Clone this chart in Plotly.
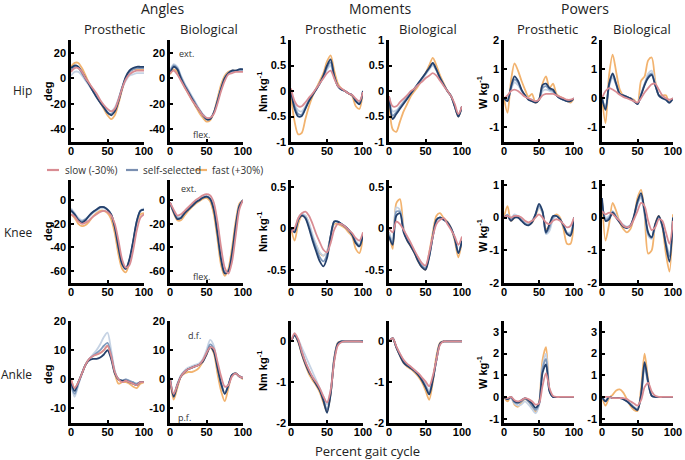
import plotly.graph_objects as go

# ---------------- data (percent gait cycle, every 5 %) ----------------
X = [0, 5, 10, 15, 20, 25, 30, 35, 40, 45, 50, 55, 60, 65, 70, 75, 80, 85, 90, 95, 100]

# ---- Hip ----
hip_angle_pro = dict(
    slow=[5, 8, 8, 5, 0, -4, -8, -12, -17, -21, -24, -26, -24, -17, -8, -1, 3, 5, 6, 6, 6],
    light=[2, 5, 5, 2, -2, -6, -10, -14, -18, -22, -25, -26, -23, -16, -8, -2, 2, 3, 4, 4, 4],
    mid=[6, 9, 8, 4, -1, -5, -10, -14, -19, -23, -27, -28, -25, -17, -7, 0, 5, 7, 8, 8, 8],
    navy=[8, 10, 9, 5, 0, -5, -10, -15, -19, -23, -27, -29, -26, -18, -8, 1, 6, 8, 9, 9, 9],
    fast=[9, 12, 12, 8, 2, -4, -9, -14, -19, -24, -29, -32, -29, -20, -9, 0, 5, 7, 7, 7, 7],
)
hip_angle_bio = dict(
    slow=[4, 6, 3, -2, -7, -12, -17, -21, -25, -29, -31, -31, -28, -20, -10, -2, 3, 4, 5, 5, 5],
    light=[6, 11, 9, 2, -4, -9, -14, -19, -24, -28, -31, -31, -27, -18, -8, 0, 4, 5, 6, 6, 6],
    mid=[5, 10, 8, 1, -5, -10, -15, -20, -25, -29, -32, -32, -27, -18, -8, 0, 4, 6, 6, 7, 7],
    navy=[4, 9, 7, 0, -6, -11, -16, -21, -25, -29, -32, -32, -27, -18, -8, 0, 4, 6, 6, 7, 7],
    fast=[3, 7, 5, -1, -7, -12, -17, -22, -27, -31, -34, -33, -27, -16, -5, 2, 5, 6, 6, 6, 6],
)
hip_moment_pro = dict(
    slow=[0.05, -0.2, -0.3, -0.3, -0.22, -0.13, -0.05, 0.05, 0.15, 0.25, 0.35, 0.4, 0.25, 0.1, 0.05, 0.0, -0.05, -0.08, -0.15, -0.2, -0.02],
    light=[0.0, -0.25, -0.38, -0.4, -0.3, -0.17, -0.06, 0.04, 0.15, 0.27, 0.42, 0.5, 0.27, 0.1, 0.04, 0.0, -0.05, -0.08, -0.18, -0.22, 0.0],
    mid=[0.0, -0.3, -0.45, -0.46, -0.33, -0.18, -0.06, 0.04, 0.15, 0.28, 0.46, 0.56, 0.28, 0.1, 0.03, 0.0, -0.05, -0.08, -0.2, -0.25, 0.0],
    navy=[0.0, -0.35, -0.5, -0.49, -0.35, -0.2, -0.08, 0.03, 0.15, 0.3, 0.5, 0.62, 0.3, 0.1, 0.03, 0.0, -0.05, -0.08, -0.2, -0.26, 0.0],
    fast=[-0.1, -0.6, -0.85, -0.82, -0.55, -0.3, -0.1, 0.05, 0.2, 0.35, 0.58, 0.7, 0.4, 0.15, 0.05, 0.0, -0.05, -0.1, -0.3, -0.35, 0.0],
)
hip_moment_bio = dict(
    slow=[-0.1, -0.3, -0.3, -0.22, -0.15, -0.08, 0.0, 0.05, 0.12, 0.18, 0.25, 0.3, 0.35, 0.3, 0.2, 0.1, 0.0, -0.1, -0.25, -0.45, -0.3],
    light=[-0.1, -0.4, -0.38, -0.3, -0.2, -0.12, -0.03, 0.05, 0.14, 0.22, 0.32, 0.42, 0.5, 0.4, 0.24, 0.11, 0.0, -0.1, -0.28, -0.48, -0.3],
    mid=[-0.1, -0.48, -0.42, -0.32, -0.22, -0.13, -0.04, 0.05, 0.14, 0.24, 0.34, 0.44, 0.53, 0.41, 0.25, 0.12, 0.0, -0.1, -0.3, -0.5, -0.3],
    navy=[-0.1, -0.55, -0.45, -0.35, -0.25, -0.15, -0.05, 0.05, 0.15, 0.25, 0.35, 0.45, 0.55, 0.42, 0.25, 0.12, 0.0, -0.1, -0.3, -0.5, -0.3],
    fast=[-0.1, -0.75, -0.8, -0.6, -0.4, -0.25, -0.1, 0.0, 0.1, 0.22, 0.35, 0.5, 0.65, 0.5, 0.3, 0.15, 0.0, -0.1, -0.3, -0.5, -0.3],
)
hip_power_pro = dict(
    slow=[0.0, 0.1, 0.25, 0.3, 0.25, 0.15, 0.05, 0.0, -0.05, -0.1, -0.05, 0.1, 0.15, 0.15, 0.15, 0.1, 0.05, 0.0, -0.05, -0.05, 0.0],
    light=[0.0, 0.0, 0.3, 0.55, 0.45, 0.25, 0.1, 0.0, -0.05, -0.1, -0.05, 0.25, 0.3, 0.25, 0.2, 0.1, 0.0, -0.05, -0.1, -0.08, 0.0],
    mid=[0.0, -0.05, 0.35, 0.65, 0.55, 0.28, 0.1, -0.03, -0.08, -0.12, -0.05, 0.35, 0.42, 0.3, 0.25, 0.1, 0.0, -0.05, -0.1, -0.1, 0.0],
    navy=[0.0, -0.1, 0.4, 0.75, 0.6, 0.3, 0.1, -0.05, -0.1, -0.15, -0.05, 0.45, 0.5, 0.35, 0.3, 0.1, 0.0, -0.05, -0.1, -0.1, 0.0],
    fast=[0.0, -0.5, 0.6, 1.2, 0.95, 0.6, 0.3, 0.05, 0.15, -0.15, -0.05, 0.5, 0.75, 0.35, 0.5, 0.15, 0.05, 0.0, -0.1, -0.15, 0.0],
)
hip_power_bio = dict(
    slow=[0.0, 0.25, 0.35, 0.3, 0.22, 0.12, 0.05, 0.0, -0.05, -0.1, -0.15, 0.0, 0.2, 0.35, 0.48, 0.5, 0.3, 0.1, 0.0, -0.05, 0.0],
    light=[0.0, -0.3, 0.4, 0.7, 0.45, 0.15, 0.1, 0.05, 0.0, -0.1, -0.2, 0.15, 0.5, 0.85, 0.95, 0.5, 0.1, 0.0, -0.05, -0.15, 0.0],
    mid=[0.0, -0.35, 0.45, 0.8, 0.48, 0.15, 0.1, 0.05, 0.0, -0.1, -0.2, 0.12, 0.48, 0.75, 0.85, 0.45, 0.1, 0.0, -0.05, -0.15, 0.0],
    navy=[0.0, -0.4, 0.5, 0.85, 0.5, 0.15, 0.1, 0.05, 0.0, -0.1, -0.2, 0.1, 0.45, 0.7, 0.8, 0.45, 0.1, 0.0, -0.05, -0.15, 0.0],
    fast=[0.0, -0.85, 0.8, 1.5, 0.9, 0.3, 0.1, 0.05, 0.0, -0.05, -0.2, 0.6, 0.75, 1.3, 1.4, 0.6, 0.1, 0.1, 0.1, -0.15, 0.0],
)

# ---- Knee ----
knee_angle_pro = dict(
    slow=[-12, -14, -18, -20, -19, -17, -14, -12, -10, -9, -10, -13, -20, -34, -50, -57, -55, -43, -26, -15, -12],
    light=[-7, -11, -15, -17, -16, -14, -11, -9, -7, -7, -8, -12, -22, -38, -52, -57, -51, -36, -19, -9, -7],
    mid=[-8, -12, -16, -18, -16, -13, -10, -8, -6, -6, -8, -12, -22, -39, -53, -58, -51, -36, -18, -9, -8],
    navy=[-9, -12, -17, -19, -17, -13, -10, -8, -6, -6, -8, -12, -23, -40, -54, -58, -50, -35, -18, -9, -8],
    fast=[-12, -15, -20, -22, -21, -18, -14, -11, -9, -9, -11, -16, -28, -46, -58, -61, -53, -36, -20, -12, -11],
)
knee_angle_bio = dict(
    slow=[-2, -8, -13, -12, -9, -6, -3, 0, 2, 4, 5, 4, -2, -18, -40, -57, -62, -52, -30, -8, 0],
    light=[-2, -9, -14, -14, -10, -7, -4, -1, 1, 3, 4, 2, -6, -25, -47, -60, -60, -47, -25, -5, 0],
    mid=[-2, -10, -15, -15, -11, -8, -5, -2, 0, 2, 3, 1, -7, -27, -49, -61, -60, -46, -23, -5, 0],
    navy=[-2, -10, -16, -15, -11, -8, -5, -2, 0, 2, 3, 1, -8, -28, -50, -62, -60, -45, -22, -5, 0],
    fast=[-2, -11, -17, -17, -13, -9, -6, -3, -1, 1, 2, -1, -12, -33, -55, -64, -58, -40, -18, -3, 0],
)
knee_moment_pro = dict(
    slow=[-0.05, 0.0, 0.12, 0.18, 0.2, 0.15, 0.05, -0.07, -0.17, -0.26, -0.29, -0.18, -0.02, 0.05, 0.05, 0.02, -0.02, -0.06, -0.12, -0.15, -0.05],
    light=[0.0, -0.02, 0.12, 0.17, 0.15, 0.06, -0.08, -0.2, -0.29, -0.33, -0.28, -0.1, 0.07, 0.08, 0.05, 0.02, -0.02, -0.07, -0.15, -0.2, -0.06],
    mid=[0.0, -0.04, 0.1, 0.16, 0.13, 0.02, -0.12, -0.24, -0.35, -0.4, -0.32, -0.1, 0.08, 0.08, 0.05, 0.02, -0.02, -0.08, -0.17, -0.21, -0.07],
    navy=[0.0, -0.05, 0.1, 0.15, 0.12, 0.0, -0.15, -0.28, -0.4, -0.46, -0.36, -0.1, 0.08, 0.08, 0.05, 0.02, -0.02, -0.08, -0.18, -0.22, -0.08],
    fast=[0.0, -0.15, 0.05, 0.15, 0.15, 0.05, -0.1, -0.2, -0.3, -0.33, -0.28, -0.1, 0.05, 0.05, 0.03, 0.0, -0.05, -0.1, -0.25, -0.3, -0.1],
)
knee_moment_bio = dict(
    slow=[0.0, -0.05, 0.08, 0.05, -0.02, -0.1, -0.18, -0.27, -0.35, -0.42, -0.45, -0.3, -0.1, 0.05, 0.1, 0.12, 0.05, -0.02, -0.1, -0.2, -0.1],
    light=[-0.05, -0.15, 0.25, 0.22, 0.0, -0.12, -0.2, -0.28, -0.36, -0.42, -0.46, -0.33, -0.1, 0.08, 0.12, 0.1, 0.07, 0.0, -0.12, -0.28, -0.15],
    mid=[-0.08, -0.18, 0.2, 0.2, -0.03, -0.14, -0.21, -0.29, -0.38, -0.45, -0.48, -0.34, -0.1, 0.1, 0.13, 0.1, 0.07, 0.0, -0.12, -0.3, -0.15],
    navy=[-0.1, -0.2, 0.15, 0.18, -0.05, -0.15, -0.22, -0.3, -0.4, -0.47, -0.5, -0.35, -0.1, 0.1, 0.13, 0.1, 0.07, 0.0, -0.12, -0.3, -0.15],
    fast=[-0.05, -0.25, 0.3, 0.35, 0.0, -0.15, -0.22, -0.3, -0.4, -0.47, -0.5, -0.3, -0.05, 0.15, 0.18, 0.12, 0.08, 0.0, -0.15, -0.35, -0.15],
)
knee_power_pro = dict(
    slow=[0.0, 0.05, 0.0, 0.05, 0.05, 0.0, -0.1, -0.15, -0.1, 0.0, 0.1, 0.0, -0.15, -0.2, -0.1, -0.05, -0.1, -0.2, -0.3, -0.25, 0.0],
    light=[0.0, 0.1, 0.0, 0.1, 0.05, -0.05, -0.15, -0.2, -0.1, 0.1, 0.3, 0.15, -0.5, -0.4, -0.05, 0.05, -0.05, -0.25, -0.45, -0.45, 0.0],
    mid=[0.0, 0.08, -0.05, 0.05, 0.03, -0.08, -0.18, -0.22, -0.12, 0.1, 0.36, 0.18, -0.48, -0.3, 0.0, 0.05, -0.05, -0.25, -0.48, -0.5, 0.0],
    navy=[0.0, 0.05, -0.1, 0.0, 0.0, -0.1, -0.2, -0.24, -0.15, 0.1, 0.42, 0.2, -0.45, -0.2, 0.05, 0.05, -0.05, -0.25, -0.5, -0.55, 0.0],
    fast=[0.0, 0.35, -0.1, 0.0, 0.05, -0.05, -0.15, -0.2, -0.15, 0.05, 0.3, 0.15, -0.35, -0.25, 0.0, 0.1, 0.0, -0.35, -0.8, -0.8, -0.05],
)
knee_power_bio = dict(
    slow=[0.2, 0.1, 0.15, 0.1, 0.0, -0.1, -0.25, -0.3, -0.25, -0.05, 0.2, 0.45, 0.35, -0.1, -0.38, -0.3, -0.05, -0.1, -0.45, -0.8, -0.1],
    light=[0.4, 0.0, 0.05, 0.2, 0.05, -0.1, -0.22, -0.28, -0.22, 0.0, 0.4, 0.6, 0.1, -0.55, -0.65, -0.25, 0.0, -0.25, -0.75, -1.1, 0.0],
    mid=[0.5, -0.05, 0.0, 0.18, 0.02, -0.12, -0.25, -0.3, -0.24, 0.02, 0.45, 0.68, 0.15, -0.5, -0.62, -0.22, 0.02, -0.25, -0.8, -1.2, 0.0],
    navy=[0.6, -0.1, -0.05, 0.15, 0.0, -0.15, -0.28, -0.32, -0.25, 0.05, 0.5, 0.75, 0.2, -0.45, -0.6, -0.2, 0.05, -0.25, -0.85, -1.35, 0.0],
    fast=[0.6, -0.7, -0.2, 0.45, 0.2, -0.15, -0.35, -0.45, -0.35, 0.0, 0.6, 0.85, 0.1, -1.1, -1.0, -0.2, 0.05, -0.3, -1.1, -1.65, 0.1],
)

# ---- Ankle ----
ankle_angle_pro = dict(
    slow=[0, -3, -1, 2, 5, 7, 8, 8.5, 9, 10, 11.5, 8, 2.5, 0, -1, -0.5, -1, -1.5, -2, -1, -1],
    light=[-2, -6, -2, 2, 5, 7, 8.5, 10, 12, 14.5, 16, 10, 3, 0, -0.5, 0, -0.5, -1, -1.5, -1, -1],
    mid=[-2, -5, -1.5, 2, 5, 7, 8, 9, 10, 11.5, 12.5, 8.5, 2.5, 0, -0.5, 0, -0.5, -1, -1.5, -1, -1],
    navy=[-1, -4, -1, 2, 5, 6.5, 7, 7, 7.5, 8.5, 10, 7, 2, 0, -0.5, -0.5, -1, -1.5, -2, -1, -1],
    fast=[0, -3, -1, 2, 5, 7, 8, 8.5, 9, 10, 11.5, 8, 2, -1.5, -1, -1, -1.5, -2.5, -3, -1.5, -1],
)
ankle_angle_bio = dict(
    slow=[0, -5, -2, 1, 2.5, 3.5, 4, 4.5, 5, 6.5, 9, 11, 10.5, 6, 1, -2.5, -2, 1, 2, 1, 0.5],
    light=[0.5, -5, -1.5, 1.5, 3, 4, 4.5, 5, 5.5, 7, 10, 13.5, 11.5, 5, -1, -4.5, -2, 1.5, 2, 1, 0.5],
    mid=[0.5, -5.5, -2, 1, 2.5, 3.5, 4, 4.5, 5, 6.5, 9, 12, 10.5, 4.5, -1.5, -5, -2, 1.5, 2, 1, 0.5],
    navy=[0, -6, -2, 1, 2.5, 3.5, 4, 4.5, 5, 6, 8.5, 11, 9.5, 4, -1.5, -5, -2, 1.5, 2, 1, 0.5],
    fast=[0, -7, -3, 1, 2, 2.5, 2.5, 3, 4, 6, 8.5, 11, 9, 2, -4, -7.5, -3, 1.5, 2, 1, 0],
)
ankle_moment_pro = dict(
    slow=[0.0, 0.2, 0.05, -0.25, -0.5, -0.7, -0.88, -1.0, -1.15, -1.35, -1.5, -1.2, -0.5, -0.1, -0.02, 0.0, 0.0, 0.0, 0.0, 0.0, -0.02],
    light=[0.0, 0.15, 0.05, -0.15, -0.35, -0.55, -0.75, -0.95, -1.15, -1.35, -1.55, -1.2, -0.4, -0.05, 0.0, 0.0, 0.0, 0.0, 0.0, 0.0, 0.0],
    mid=[0.0, 0.15, 0.02, -0.25, -0.5, -0.72, -0.88, -1.02, -1.18, -1.42, -1.68, -1.28, -0.45, -0.05, 0.0, 0.0, 0.0, 0.0, 0.0, 0.0, 0.0],
    navy=[0.0, 0.15, 0.0, -0.3, -0.55, -0.75, -0.9, -1.05, -1.2, -1.45, -1.75, -1.3, -0.45, -0.05, 0.0, 0.0, 0.0, 0.0, 0.0, 0.0, 0.0],
    fast=[0.0, 0.15, -0.02, -0.32, -0.58, -0.8, -0.95, -1.08, -1.25, -1.5, -1.72, -1.3, -0.4, -0.03, 0.0, 0.0, 0.0, 0.0, 0.0, 0.0, 0.0],
)
ankle_moment_bio = dict(
    slow=[0.0, 0.08, -0.12, -0.3, -0.45, -0.55, -0.62, -0.7, -0.78, -0.88, -0.98, -1.1, -0.85, -0.45, -0.08, 0.0, 0.0, 0.0, 0.0, 0.0, 0.0],
    light=[0.0, 0.08, -0.12, -0.3, -0.47, -0.56, -0.63, -0.7, -0.79, -0.9, -1.05, -1.2, -0.9, -0.45, -0.06, 0.0, 0.0, 0.0, 0.0, 0.0, 0.0],
    mid=[0.0, 0.08, -0.14, -0.34, -0.5, -0.58, -0.65, -0.72, -0.81, -0.93, -1.1, -1.26, -0.93, -0.45, -0.05, 0.0, 0.0, 0.0, 0.0, 0.0, 0.0],
    navy=[0.0, 0.08, -0.15, -0.35, -0.52, -0.6, -0.66, -0.73, -0.82, -0.95, -1.12, -1.3, -0.95, -0.45, -0.05, 0.0, 0.0, 0.0, 0.0, 0.0, 0.0],
    fast=[0.0, 0.08, -0.15, -0.35, -0.53, -0.62, -0.68, -0.76, -0.86, -1.0, -1.2, -1.43, -1.0, -0.35, -0.03, 0.0, 0.0, 0.0, 0.0, 0.0, 0.0],
)
ankle_power_pro = dict(
    slow=[0.0, -0.05, 0.0, -0.15, -0.2, -0.15, -0.05, -0.1, -0.2, -0.35, -0.3, 0.5, 1.1, 0.4, 0.05, 0.0, 0.0, 0.0, 0.0, 0.0, 0.0],
    light=[0.0, -0.1, -0.05, -0.3, -0.4, -0.35, -0.2, -0.35, -0.55, -0.75, -0.4, 1.4, 2.0, 0.35, 0.0, 0.0, 0.0, 0.0, 0.0, 0.0, 0.0],
    mid=[0.0, -0.1, -0.02, -0.25, -0.3, -0.2, -0.08, -0.2, -0.4, -0.6, -0.35, 1.3, 1.75, 0.3, 0.0, 0.0, 0.0, 0.0, 0.0, 0.0, 0.0],
    navy=[0.0, -0.1, 0.0, -0.2, -0.25, -0.15, -0.05, -0.15, -0.3, -0.5, -0.3, 1.1, 1.5, 0.25, 0.0, 0.0, 0.0, 0.0, 0.0, 0.0, 0.0],
    fast=[0.0, -0.2, 0.0, -0.35, -0.45, -0.25, -0.1, -0.2, -0.45, -0.7, -0.3, 1.7, 2.3, 0.35, 0.0, 0.0, 0.0, 0.0, 0.0, 0.0, 0.0],
)
ankle_power_bio = dict(
    slow=[0.0, 0.0, 0.0, -0.05, -0.05, -0.05, -0.05, -0.1, -0.2, -0.3, -0.4, -0.15, 0.45, 0.65, 0.25, 0.05, 0.0, 0.0, 0.0, 0.0, 0.0],
    light=[0.0, -0.15, 0.0, -0.05, -0.05, -0.05, -0.08, -0.15, -0.3, -0.45, -0.55, 0.0, 1.3, 0.6, 0.05, 0.0, 0.0, 0.0, 0.0, 0.0, 0.0],
    mid=[0.0, -0.2, 0.0, -0.05, -0.05, -0.05, -0.1, -0.2, -0.33, -0.48, -0.58, 0.1, 1.45, 0.65, 0.05, 0.0, 0.0, 0.0, 0.0, 0.0, 0.0],
    navy=[0.0, -0.2, 0.0, -0.05, -0.05, -0.05, -0.1, -0.2, -0.35, -0.5, -0.6, 0.1, 1.6, 0.7, 0.05, 0.0, 0.0, 0.0, 0.0, 0.0, 0.0],
    fast=[0.0, -0.4, -0.05, 0.1, 0.3, 0.35, 0.2, -0.1, -0.4, -0.6, -0.65, 0.4, 2.0, 0.8, 0.05, 0.0, 0.0, 0.0, 0.0, 0.0, 0.0],
)

GRID = [
    [hip_angle_pro, hip_angle_bio, hip_moment_pro, hip_moment_bio, hip_power_pro, hip_power_bio],
    [knee_angle_pro, knee_angle_bio, knee_moment_pro, knee_moment_bio, knee_power_pro, knee_power_bio],
    [ankle_angle_pro, ankle_angle_bio, ankle_moment_pro, ankle_moment_bio, ankle_power_pro, ankle_power_bio],
]

# y ranges / ticks per row, per quantity (angle, moment, power)
Y_RANGES = [
    [[-50, 30], [-1, 1], [-1.5, 2]],
    [[-70, 17], [-0.66, 0.58], [-2, 1.15]],
    [[-15, 20], [-2, 0.5], [-1.2, 3.5]],
]
Y_TICKS = [
    [([-40, -20, 0, 20], ["-40", "-20", "0", "20"]),
     ([-1, -0.5, 0, 0.5, 1], ["-1", "-0.5", "0", "0.5", "1"]),
     ([-1, 0, 1, 2], ["-1", "0", "1", "2"])],
    [([-60, -40, -20, 0], ["-60", "-40", "-20", "0"]),
     ([-0.5, 0, 0.5], ["-0.5", "0", "0.5"]),
     ([-2, -1, 0, 1], ["-2", "-1", "0", "1"])],
    [([-10, 0, 10, 20], ["-10", "0", "10", "20"]),
     ([-2, -1, 0], ["-2", "-1", "0"]),
     ([-1, 0, 1, 2, 3], ["-1", "0", "1", "2", "3"])],
]
X_TICKS = [0, 50, 100]

SERIES_ORDER = ["fast", "light", "mid", "navy", "slow"]
COLORS = {"fast": "#f2b36f", "light": "#c6d3e4", "mid": "#7f9abd",
          "navy": "#24406b", "slow": "#d98c93"}

ROW_NAMES = ["Hip", "Knee", "Ankle"]
GROUPS = ["Angles", "Moments", "Powers"]
SIDES = ["Prosthetic", "Biological"]
UNITS = ["deg", "Nm kg<sup>-1</sup>", "W kg<sup>-1</sup>"]

# ---------------- layout geometry (pixels) ----------------
W, H = 685, 460
COLS = [(71, 144), (170, 243), (291, 363), (389, 462), (504, 574), (602, 673)]
ROWS = [(40, 142), (180, 283), (321, 423)]


def fx(p):
    return p / W


def fy(p):
    return 1 - p / H


TICKFONT = dict(family="Liberation Sans, Arial", size=11, color="black", weight="bold")
TXT = "Open Sans, Noto Sans, sans-serif"

fig = go.Figure()
layout = dict(
    width=W, height=H, margin=dict(l=0, r=0, t=0, b=0, autoexpand=False),
    paper_bgcolor="white", plot_bgcolor="white", showlegend=False,
)

idx = 0
for r in range(3):
    for c in range(6):
        idx += 1
        q = c // 2
        data = GRID[r][c]
        xa = "x" if idx == 1 else f"x{idx}"
        ya = "y" if idx == 1 else f"y{idx}"
        for s in SERIES_ORDER:
            fig.add_trace(go.Scatter(
                x=X, y=data[s], mode="lines", xaxis=xa, yaxis=ya,
                line=dict(color=COLORS[s], width=1.8, shape="spline", smoothing=0.8),
                hoverinfo="skip",
            ))
        tv, tt = Y_TICKS[r][q]
        layout["xaxis" if idx == 1 else f"xaxis{idx}"] = dict(
            domain=[fx(COLS[c][0]), fx(COLS[c][1])], range=[0, 100], anchor=ya,
            tickvals=X_TICKS, ticktext=[str(v) for v in X_TICKS],
            ticks="inside", ticklen=3, tickwidth=1.5, tickcolor="black",
            showline=True, linewidth=2.5, linecolor="black", ticklabelstandoff=-3,
            showgrid=False, zeroline=False, tickfont=TICKFONT, fixedrange=True,
        )
        layout["yaxis" if idx == 1 else f"yaxis{idx}"] = dict(
            domain=[fy(ROWS[r][1]), fy(ROWS[r][0])], range=Y_RANGES[r][q], anchor=xa,
            tickvals=tv, ticktext=tt,
            ticks="inside", ticklen=3, tickwidth=1.5, tickcolor="black",
            showline=True, linewidth=2.5, linecolor="black",
            showgrid=False, zeroline=False, tickfont=TICKFONT, fixedrange=True,
        )

ann = []


def label(text, xc, yc, size, family=TXT, color="#222", xanchor="center", **kw):
    ann.append(dict(text=text, x=fx(xc), y=fy(yc), xref="paper", yref="paper",
                    xanchor=xanchor, yanchor="middle", showarrow=False,
                    font=dict(family=family, size=size, color=color, **kw.pop("font_extra", {})),
                    **kw))


# group titles
for g, xc in zip(GROUPS, [162, 380, 585]):
    label(g, xc, 8, 14)
# side titles
for xc, name in zip([115, 209, 335, 428, 547, 642], SIDES * 3):
    label(name, xc, 29, 13)
# row names
for name, yc in zip(ROW_NAMES, [91, 233, 374]):
    label(name, 34, yc, 12, xanchor="right")
# unit labels
UNIT_X = [48, 262, 482]
UNIT_Y = [[91, 92, 92], [231, 232, 235], [374, 371, 372]]
for r in range(3):
    for q in range(3):
        label(UNITS[q], UNIT_X[q], UNIT_Y[r][q], 11, family="Liberation Sans, Arial",
              color="black", textangle=-90, font_extra=dict(weight="bold"))
# direction labels
for text, xc, yc in [("ext.", 186, 53), ("flex.", 201, 134), ("ext.", 188, 189),
                     ("flex.", 201, 276), ("d.f.", 194, 335), ("p.f.", 184, 417)]:
    label(text, xc, yc, 9, color="#333")
# x label
label("Percent gait cycle", 367, 451, 13)

# legend (manual)
LEGEND = [("slow (-30%)", "#d98c93", 47, 63), ("self-selected", "#7a8fb1", 126, 141),
          ("fast (+30%)", "#f2b36f", 195, 210)]
shapes = []
for text, col, lx, tx in LEGEND:
    shapes.append(dict(type="line", xref="paper", yref="paper",
                       x0=fx(lx), x1=fx(lx + 12), y0=fy(170), y1=fy(170),
                       line=dict(color=col, width=2.2)))
    label(text, tx, 170, 10, color="#333", xanchor="left")

layout["annotations"] = ann
layout["shapes"] = shapes
fig.update_layout(**layout)
fig.write_html(
    "out.html",
    config={"displayModeBar": False},
    post_script="document.body.style.margin='0';document.body.style.overflow='hidden';",
)
